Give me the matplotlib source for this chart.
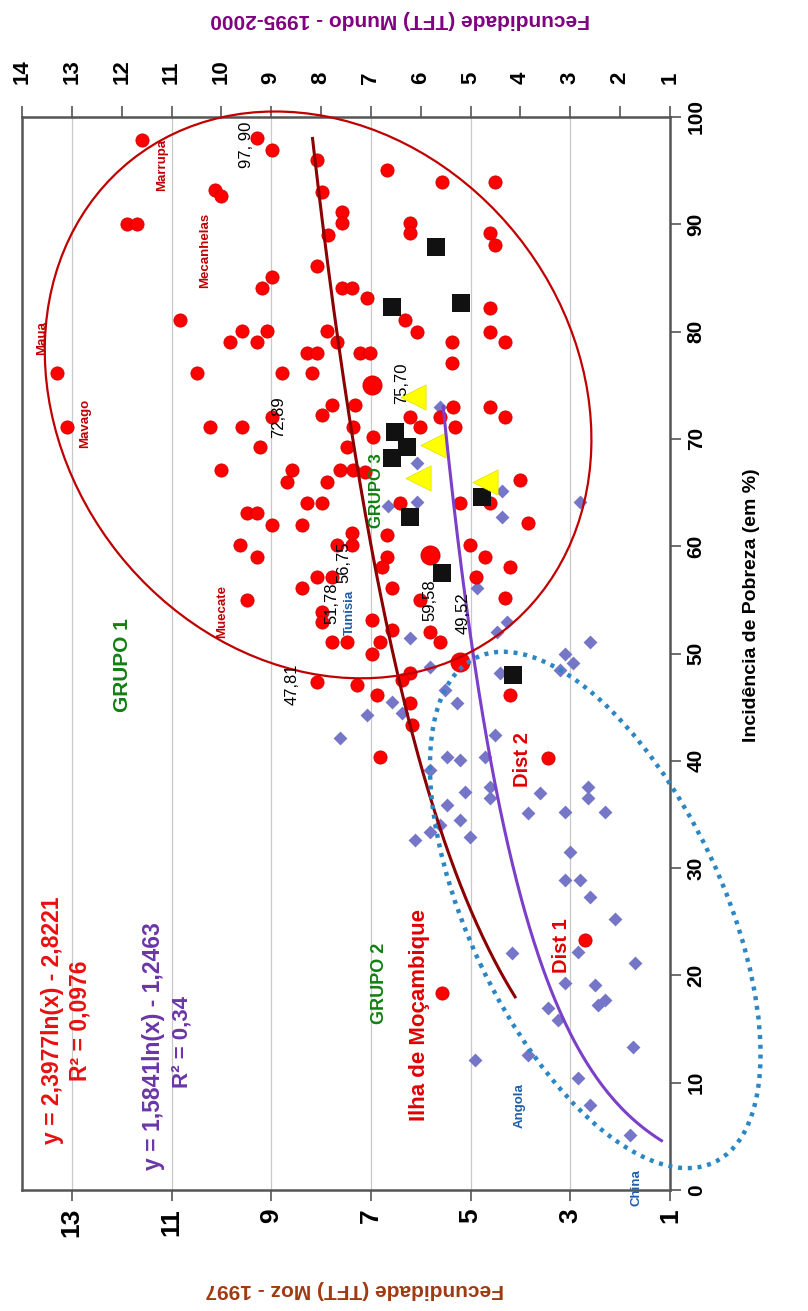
import numpy as np
import matplotlib
matplotlib.use("Agg")
import matplotlib.pyplot as plt
from matplotlib.patches import Ellipse
from matplotlib.transforms import ScaledTranslation

plt.rcParams['font.family'] = ['Liberation Sans', 'DejaVu Sans']

# Mozambique districts (TFT Moz 1997)
moz_fec = [11.59, 11.89, 11.69, 10.13, 10.01, 9.28, 8.98, 8.08, 7.98, 7.86, 7.58, 7.58,
           8.08, 7.58, 7.38, 8.98, 9.18, 6.68, 5.57, 4.51, 6.22, 6.22, 4.61, 4.51, 7.08,
           10.83, 9.59, 9.83, 9.28, 9.08, 7.88, 7.68, 8.28, 8.08, 13.30, 10.49, 8.78, 8.18,
           7.22, 7.02, 6.32, 6.08, 4.61, 4.61, 4.31, 5.37, 5.37,
           13.10, 10.23, 9.59, 8.98, 7.78, 7.98, 7.32, 7.36, 6.22, 6.02, 5.61, 5.35, 5.31,
           4.61, 4.31, 9.22, 7.48, 6.96, 10.00, 8.58, 8.68, 7.88, 7.62, 7.36, 7.12, 4.01,
           6.42, 5.21, 4.61, 3.85, 9.49, 9.28, 8.98, 8.38, 8.28, 7.98, 9.63, 9.28, 7.68,
           7.38, 7.38, 6.68, 6.68, 6.78, 5.01, 4.71, 4.21, 4.89, 9.49, 8.38, 8.08, 7.78,
           6.58, 6.02, 4.31, 7.98, 7.98, 6.98, 6.58, 6.82, 6.98, 7.78, 7.48, 5.81, 5.61,
           6.22, 6.38, 8.08, 7.28, 6.88, 4.21, 6.22, 6.18, 6.82, 3.45, 2.71, 5.57]
moz_pov = [97.9, 90.0, 90.0, 93.2, 92.6, 98.0, 96.9, 96.0, 93.0, 89.0, 91.1, 90.1,
           86.1, 84.1, 84.1, 85.1, 84.1, 95.1, 93.9, 93.9, 90.1, 89.2, 89.2, 88.1, 83.1,
           81.1, 80.1, 79.0, 79.0, 80.1, 80.1, 79.0, 78.0, 78.0, 76.1, 76.1, 76.1, 76.1,
           78.0, 78.0, 81.1, 80.0, 82.2, 80.0, 79.0, 79.0, 77.1,
           71.1, 71.1, 71.1, 72.0, 73.2, 72.2, 73.2, 71.1, 72.0, 71.1, 72.0, 73.0, 71.1,
           73.0, 72.0, 69.2, 69.2, 70.2, 67.1, 67.1, 66.0, 66.0, 67.1, 67.1, 66.9, 66.2,
           64.0, 64.0, 64.0, 62.2, 63.1, 63.1, 62.0, 62.0, 64.0, 64.0, 60.1, 59.0, 60.1,
           60.1, 61.2, 61.0, 59.0, 58.1, 60.1, 59.0, 58.1, 57.1, 55.0, 56.1, 57.1, 57.1,
           56.1, 55.0, 55.2, 53.9, 52.9, 53.1, 52.2, 51.1, 50.0, 51.1, 51.1, 52.0, 51.1,
           48.2, 47.5, 47.3, 47.1, 46.1, 46.1, 45.4, 43.3, 40.4, 40.3, 23.3, 18.4]
# larger red markers
big_fec = [6.98, 5.81, 5.21]
big_pov = [75.0, 59.2, 49.2]

# World countries (TFT Mundo 1995-2000)
wld_fec = [5.61, 6.08, 6.08, 6.66, 4.37, 4.37, 2.81, 4.87, 6.22, 5.81, 4.47, 4.27,
           2.60, 3.11, 2.95, 3.21, 4.41, 5.51, 7.62, 6.58, 7.08, 6.38, 5.27, 5.47,
           5.21, 4.71, 4.51, 5.81, 5.11, 4.61, 4.61, 5.47, 5.21, 5.01, 5.81, 6.12, 5.61,
           3.61, 3.85, 3.11, 2.64, 2.64, 2.30, 3.01, 3.11, 2.81, 2.60, 2.10, 4.17, 2.85,
           1.70, 3.11, 2.50, 2.30, 2.44, 3.45, 3.25, 1.74, 4.91, 3.85, 2.85, 2.60, 1.80]
wld_pov = [73.0, 67.8, 64.1, 63.7, 65.1, 62.7, 64.1, 56.1, 51.4, 48.7, 52.0, 52.9,
           51.1, 50.0, 49.1, 48.5, 48.2, 46.6, 42.1, 45.5, 44.3, 44.5, 45.4, 40.4,
           40.1, 40.4, 42.4, 39.1, 37.1, 37.6, 36.5, 35.9, 34.5, 32.9, 33.4, 32.6, 34.0,
           37.0, 35.1, 35.2, 37.6, 36.5, 35.2, 31.5, 28.9, 28.9, 27.3, 25.3, 22.1, 22.2,
           21.2, 19.3, 19.1, 17.7, 17.2, 17.0, 15.8, 13.3, 12.1, 12.6, 10.4, 7.9, 5.1]

# Black squares and yellow triangles
sq_fec = [5.69, 6.58, 5.19, 6.52, 6.28, 6.58, 6.22, 5.57, 4.77, 4.15]
sq_pov = [87.9, 82.3, 82.7, 70.6, 69.2, 68.2, 62.7, 57.5, 64.6, 48.0]
tri_fec = [6.16, 5.75, 6.06, 4.71]
tri_pov = [73.9, 69.4, 66.4, 66.0]

# logarithmic trend lines  y = a*ln(x) + b, drawn over poverty range [p0, p1]
moz_fit = (2.3977, -2.8221, 18, 98)
wld_fit = (1.5841, -1.2463, 4.6, 73)

moz_ticks = [1, 3, 5, 7, 9, 11, 13]
wld_ticks = list(range(1, 15))
pov_ticks = list(range(0, 101, 10))

# text labels (fecundity, poverty, text)
red_small = [(13.6, 79.4, 'Maua'), (12.74, 71.4, 'Mavago'), (11.19, 95.5, 'Marrupa'),
             (10.33, 87.6, 'Mecanhelas'), (9.99, 53.9, 'Muecate')]
red_big = [(6.02, 16.3, 'Ilha de Moçambique', 16), (3.95, 40.1, 'Dist 2', 14.5),
           (3.17, 22.8, 'Dist 1', 14.5)]
blue_lbl = [(4.01, 7.9, 'Angola'), (1.68, 0.2, 'China'), (7.42, 53.8, 'Tunísia')]
num_lbl = [(9.49, 97.4, '97, 90'), (8.86, 72.0, '72,89'), (6.38, 75.2, '75,70'),
           (7.78, 54.7, '51,78'), (7.55, 58.5, '56,75'), (5.81, 55.0, '59,58'),
           (5.15, 53.8, '49,52'), (8.58, 47.1, '47,81')]
grp_lbl = [(11.99, 48.9, 'GRUPO 1', 15), (6.82, 19.3, 'GRUPO 2', 13), (6.88, 65.2, 'GRUPO 3', 12)]

fig = plt.figure(figsize=(8.08, 13.11), dpi=100)
ax = fig.add_axes([22 / 808, 1 - 1190 / 1311, 648 / 808, 1073 / 1311])
ax.set_xlim(14, 1)
ax.set_ylim(0, 100)

ax.scatter(wld_fec, wld_pov, marker='D', s=50, color='#7676C8', zorder=3, linewidths=0)
ax.scatter(moz_fec, moz_pov, marker='o', s=90, color='#FF0000', edgecolor='#D00000',
           linewidths=0.6, zorder=4)
ax.scatter(big_fec, big_pov, marker='o', s=190, color='#FF0000', edgecolor='#D00000',
           linewidths=0.6, zorder=4)
ax.scatter(sq_fec, sq_pov, marker='s', s=160, color='#111111', zorder=5, linewidths=0)
ax.scatter(tri_fec, tri_pov, marker='<', s=330, color='#FFFF00', edgecolor='#E0E000',
           linewidths=0.5, zorder=6)

for (a, b, p0, p1), col in [(moz_fit, '#8B0000'), (wld_fit, '#7B3FC8')]:
    p = np.linspace(p0, p1, 200)
    ax.plot(a * np.log(p) + b, p, color=col, lw=2.2, zorder=7)

# group outlines (sizes in inches, centred on data points)
e1 = Ellipse((0, 0), 6.0, 5.1, angle=-51.5, fill=False, ec='#C00000', lw=1.6,
             transform=fig.dpi_scale_trans + ScaledTranslation(8.06, 74.1, ax.transData),
             clip_on=False, zorder=8)
e2 = Ellipse((0, 0), 5.58, 2.54, angle=-64.8, fill=False, ec='#2B86C5', lw=3.2,
             ls=(0, (0.9, 1.3)), transform=fig.dpi_scale_trans + ScaledTranslation(2.5, 26.1, ax.transData),
             clip_on=False, zorder=8)
ax.add_patch(e1)
ax.add_patch(e2)

def lab(x, y, s, **kw):
    ax.text(x, y, s, rotation=90, ha='center', va='center', rotation_mode='anchor',
            zorder=9, clip_on=False, **kw)

for x, y, s in red_small:
    lab(x, y, s, color='#C00000', fontsize=9.5, fontweight='bold')
for x, y, s, fs in red_big:
    lab(x, y, s, color='#E00000', fontsize=fs, fontweight='bold')
for x, y, s in blue_lbl:
    lab(x, y, s, color='#1F5FA8', fontsize=9.5, fontweight='bold')
for x, y, s in num_lbl:
    lab(x, y, s, color='black', fontsize=12)
for x, y, s, fs in grp_lbl:
    lab(x, y, s, color='#108010', fontsize=fs, fontweight='bold')

lab(13.38, 15.8, 'y = 2,3977ln(x) - 2,8221', color='#E81010', fontsize=16.5, fontweight='bold')
lab(12.84, 15.8, 'R² = 0,0976', color='#E81010', fontsize=16.5, fontweight='bold')
lab(11.37, 13.4, 'y = 1,5841ln(x) - 1,2463', color='#6A35A8', fontsize=16.5, fontweight='bold')
lab(10.79, 13.8, 'R² = 0,34', color='#6A35A8', fontsize=16, fontweight='bold')

# axes styling
for sp in ax.spines.values():
    sp.set_color('#555555')
    sp.set_linewidth(1.8)
ax.set_xticks(moz_ticks)
ax.set_xticklabels([str(t) for t in moz_ticks], rotation=90, fontsize=19, fontweight='bold')
ax.tick_params(axis='x', direction='out', length=8, width=1.2, color='#555555', pad=5)
ax.grid(axis='x', color='#C8C8C8', lw=0.9)
ax.yaxis.tick_right()
ax.set_yticks(pov_ticks)
ax.set_yticklabels([str(t) for t in pov_ticks], rotation=90, va='center', fontsize=15,
                   fontweight='bold')
ax.tick_params(axis='y', direction='out', length=8, width=1.2, color='#555555', pad=4)

top = ax.secondary_xaxis('top')
top.set_xticks(wld_ticks)
top.set_xticklabels([str(t) for t in wld_ticks], rotation=90, fontsize=16, fontweight='bold')
top.tick_params(direction='out', length=8, width=1.2, color='#555555', pad=16)
top.spines['top'].set_visible(False)

fig.text(400 / 808, 1 - 20 / 1311, 'Fecundidade (TFT) Mundo - 1995-2000', rotation=180,
         ha='center', va='center', color='#800080', fontsize=15, fontweight='bold')
fig.text(355 / 808, 1 - 1290 / 1311, 'Fecundidade (TFT) Moz - 1997', rotation=180,
         ha='center', va='center', color='#A03A10', fontsize=15, fontweight='bold')
fig.text(752 / 808, 1 - 605 / 1311, 'Incidência de Pobreza (em %)', rotation=90,
         ha='center', va='center', color='black', fontsize=14, fontweight='bold')

fig.savefig('out.png', dpi=100)
